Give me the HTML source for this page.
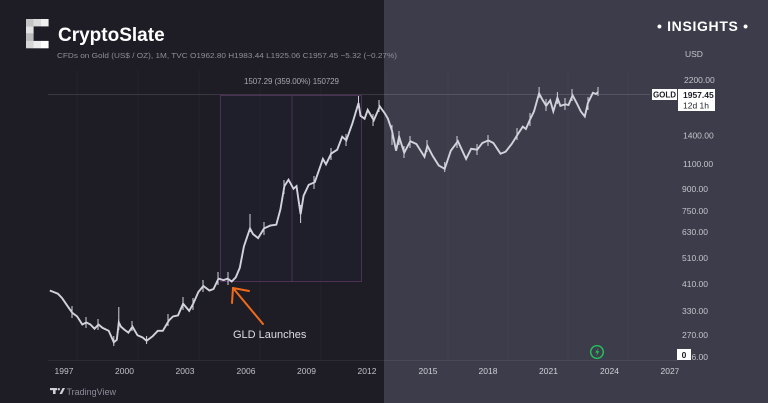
<!DOCTYPE html>
<html><head><meta charset="utf-8"><style>
html,body{margin:0;padding:0;background:#1e1d26;}
svg{display:block;}
text{font-family:"Liberation Sans",sans-serif;}
</style></head><body>
<svg width="768" height="403" viewBox="0 0 768 403" xmlns="http://www.w3.org/2000/svg">
<rect x="0" y="0" width="384" height="403" fill="#1e1d26"/>
<rect x="384" y="0" width="384" height="403" fill="#3d3c4a"/>

<!-- faint grid -->
<g stroke="#ffffff" stroke-opacity="0.025" stroke-width="1">
<line x1="77" y1="70" x2="77" y2="360"/><line x1="138" y1="70" x2="138" y2="360"/><line x1="199" y1="70" x2="199" y2="360"/>
<line x1="260" y1="70" x2="260" y2="360"/><line x1="321" y1="70" x2="321" y2="360"/><line x1="387" y1="70" x2="387" y2="360"/>
<line x1="448" y1="70" x2="448" y2="360"/><line x1="508" y1="70" x2="508" y2="360"/><line x1="568" y1="70" x2="568" y2="360"/>
<line x1="628" y1="70" x2="628" y2="360"/>
</g>
<!-- price line and bottom axis line -->
<line x1="48" y1="94.5" x2="650" y2="94.5" stroke="#ffffff" stroke-opacity="0.12" stroke-width="1"/>
<line x1="48" y1="360.5" x2="678" y2="360.5" stroke="#ffffff" stroke-opacity="0.07" stroke-width="1"/>

<!-- measurement rectangle -->
<rect x="220.5" y="95.5" width="141" height="186" fill="#3a3a70" fill-opacity="0.07" stroke="#4e2f56" stroke-width="1"/>
<line x1="292" y1="96" x2="292" y2="282" stroke="#4e2f56" stroke-width="1"/>
<text x="244" y="84" font-size="8" fill="#a8a7b2" textLength="95">1507.29 (359.00%) 150729</text>

<!-- price series -->
<polyline fill="none" stroke="#d2d2dc" stroke-width="1.9" stroke-linejoin="miter" points="
49.8,290.5 53.9,292.1 57.9,293.7 62,298 67.1,305.4 72.2,312.7 77.2,316.5 82.3,324.5 86.4,322.4 90.4,324.5 94.5,328.7 98.5,324.5 102.6,327.9 108.7,330.8 113.8,342.3 116.8,339.8 118.8,322.4 120.9,326.6 124.3,329.6 128.4,332.6 132.5,326.6 137.5,335.3 142.6,337.5 146.6,340.8 152.7,336.2 157.8,330.8 162.8,330.8 168.9,320.5 173,316.5 178,315.4 183.1,303.7 189.2,310.9 193.2,303.7 198.3,292.1 203.3,285.9 209.4,290.5 213.5,289 218.5,278.6 223.6,280.1 227.7,278.6 231.7,281.5 235.8,277.3 239.8,267.8 243.9,246.5 250,228.4 253,234.1 258.1,238.1 264.1,228.4 270.2,225.6 276.3,224.7 280.4,209.4 284.4,186.1 288.5,179.7 293.5,188.8 296.5,186.1 300.6,214.2 303.6,195.7 308.7,184.8 314.8,182.2 322.9,158.9 326,164.3 331.1,153.7 337.2,149.7 342.2,136.7 346.3,140.4 352.4,123.3 358.5,103 360.5,115.8 364.6,118.7 367.7,109.9 373.8,120.3 379.8,106.4 384.9,113.5 387.9,118.7 392,130.7 396.1,150.7 399.1,136.7 404.2,152.8 410.3,141.2 416.4,144 424.5,156.8 427.4,145.8 432.6,155.8 438.7,165.4 444.7,168.8 450.8,150.7 457.9,141.2 466.1,158.9 471.1,148.8 477.2,149.7 482.3,143 488.3,140.4 493.4,143 500.5,153.7 505.6,151.7 511.7,144 517.8,134.2 522.8,126.6 525.9,129 530,119.6 534,111.4 539.1,93.4 542.1,99.1 546.2,105.8 550.2,100.4 553.3,111.4 557.4,97.8 560.4,105.8 565.5,104.3 568.5,105 572.6,95.3 576.7,103 580.8,111.4 584.8,116.5 587.9,103 592.9,92.8 596,94 598,92"/>
<!-- wicks / candle texture -->
<g stroke="#d2d2dc" stroke-width="1">
<line x1="118.8" y1="307" x2="118.8" y2="330"/>
<line x1="250" y1="214" x2="250" y2="232"/>
<line x1="300.6" y1="223" x2="300.6" y2="205"/>
<line x1="358.5" y1="96" x2="358.5" y2="108"/>
<line x1="392" y1="125" x2="392" y2="145"/>
<line x1="539.1" y1="87" x2="539.1" y2="98"/>
<line x1="557.4" y1="92" x2="557.4" y2="104"/>
<line x1="598" y1="87" x2="598" y2="96"/>
<line x1="444.7" y1="162" x2="444.7" y2="172"/>
<line x1="146.6" y1="336" x2="146.6" y2="344"/>
<line x1="113.8" y1="336" x2="113.8" y2="346"/>
<line x1="72" y1="306" x2="72" y2="318"/>
<line x1="86" y1="317" x2="86" y2="328"/>
<line x1="98" y1="319" x2="98" y2="330"/>
<line x1="132" y1="321" x2="132" y2="331"/>
<line x1="168" y1="314" x2="168" y2="326"/>
<line x1="183" y1="297" x2="183" y2="310"/>
<line x1="193" y1="298" x2="193" y2="310"/>
<line x1="203" y1="280" x2="203" y2="292"/>
<line x1="218" y1="272" x2="218" y2="285"/>
<line x1="228" y1="272" x2="228" y2="285"/>
<line x1="264" y1="222" x2="264" y2="235"/>
<line x1="284" y1="180" x2="284" y2="194"/>
<line x1="314" y1="176" x2="314" y2="189"/>
<line x1="331" y1="148" x2="331" y2="160"/>
<line x1="346" y1="134" x2="346" y2="146"/>
<line x1="373" y1="114" x2="373" y2="126"/>
<line x1="379" y1="100" x2="379" y2="112"/>
<line x1="399" y1="131" x2="399" y2="145"/>
<line x1="404" y1="146" x2="404" y2="158"/>
<line x1="410" y1="136" x2="410" y2="148"/>
<line x1="427" y1="140" x2="427" y2="152"/>
<line x1="457" y1="136" x2="457" y2="148"/>
<line x1="477" y1="144" x2="477" y2="155"/>
<line x1="488" y1="135" x2="488" y2="146"/>
<line x1="517" y1="128" x2="517" y2="140"/>
<line x1="530" y1="113" x2="530" y2="126"/>
<line x1="546" y1="99" x2="546" y2="111"/>
<line x1="565" y1="98" x2="565" y2="110"/>
<line x1="572" y1="89" x2="572" y2="101"/>
<line x1="588" y1="97" x2="588" y2="110"/>
</g>

<!-- arrow -->
<g stroke="#f06a1a" stroke-width="2" stroke-linecap="round" fill="none">
<line x1="263" y1="324" x2="233" y2="288"/>
<line x1="233" y1="288" x2="249" y2="291"/>
<line x1="233" y1="288" x2="232" y2="303"/>
</g>
<text x="233" y="338" font-size="11" fill="#dcdce2">GLD Launches</text>

<!-- logo -->
<rect x="26" y="19" width="7.6" height="7.4" fill="#c4c4c4"/>
<rect x="33.5" y="19" width="7.6" height="7.4" fill="#dadada"/>
<rect x="41" y="19" width="7.6" height="7.4" fill="#f0f0f0"/>
<rect x="26" y="26.3" width="7.6" height="7.4" fill="#e2e2e2"/>
<rect x="26" y="33.6" width="7.6" height="7.4" fill="#bcbcbc"/>
<rect x="26" y="40.9" width="7.6" height="7.4" fill="#d6d6d6"/>
<rect x="33.5" y="40.9" width="7.6" height="7.4" fill="#ececec"/>
<rect x="41" y="40.9" width="7.6" height="7.4" fill="#ffffff"/>
<text x="58" y="41" font-size="19" font-weight="bold" fill="#ffffff">CryptoSlate</text>
<text x="57" y="58" font-size="7.5" fill="#8e8d99" textLength="340" lengthAdjust="spacingAndGlyphs">CFDs on Gold (US$ / OZ), 1M, TVC  O1962.80  H1983.44  L1925.06  C1957.45  −5.32 (−0.27%)</text>

<text x="657" y="31" font-size="14" font-weight="bold" fill="#ffffff" textLength="91" lengthAdjust="spacing">• INSIGHTS •</text>

<!-- price axis -->
<g font-size="8.5" fill="#c4c4cc">
<text x="685" y="57">USD</text>
<text x="684" y="83">2200.00</text>
<text x="683" y="138.5">1400.00</text>
<text x="683" y="167">1100.00</text>
<text x="682" y="192">900.00</text>
<text x="682" y="214">750.00</text>
<text x="682" y="235">630.00</text>
<text x="682" y="261">510.00</text>
<text x="682" y="287">410.00</text>
<text x="682" y="314">330.00</text>
<text x="682" y="338">270.00</text>
<text x="682" y="360">226.00</text>
</g>
<rect x="652" y="89" width="25" height="11" fill="#ffffff"/>
<text x="664.5" y="97.5" font-size="8" font-weight="bold" fill="#1e1d26" text-anchor="middle">GOLD</text>
<rect x="678" y="89" width="37" height="22" fill="#ffffff"/>
<text x="683" y="98" font-size="8.5" font-weight="bold" fill="#1e1d26">1957.45</text>
<text x="683" y="108.5" font-size="8.5" fill="#1e1d26">12d 1h</text>
<rect x="677" y="349" width="14" height="11" fill="#ffffff"/>
<text x="684" y="358" font-size="8.5" font-weight="bold" fill="#1e1d26" text-anchor="middle">0</text>

<!-- green icon -->
<circle cx="597" cy="352" r="6.3" fill="none" stroke="#22c55e" stroke-width="1.4"/>
<path d="M598.6,347.6 L595.2,352.6 L597.4,352.6 L596,356.5 L599.4,351.3 L597.2,351.3 Z" fill="#22c55e"/>

<!-- x axis -->
<g font-size="8.5" fill="#c0c0c8" text-anchor="middle">
<text x="64" y="374">1997</text>
<text x="124.5" y="374">2000</text>
<text x="185" y="374">2003</text>
<text x="246" y="374">2006</text>
<text x="306.5" y="374">2009</text>
<text x="367" y="374">2012</text>
<text x="428" y="374" fill="#d0d0d8">2015</text>
<text x="488" y="374" fill="#d0d0d8">2018</text>
<text x="548.5" y="374" fill="#d0d0d8">2021</text>
<text x="609.5" y="374" fill="#d0d0d8">2024</text>
<text x="670" y="374" fill="#d0d0d8">2027</text>
</g>
<rect x="678.5" y="364" width="40" height="14" fill="#3d3c4a"/>

<!-- TradingView -->
<g fill="#cfcfd6">
<rect x="50" y="388" width="7" height="2.2"/>
<rect x="53" y="388" width="2.6" height="6"/>
<circle cx="58.8" cy="389.2" r="1.2"/>
<polygon points="59.5,394 62.5,388 65,388 62,394"/>
</g>
<text x="66.5" y="395" font-size="9" fill="#8d8c98">TradingView</text>
</svg>
</body></html>
